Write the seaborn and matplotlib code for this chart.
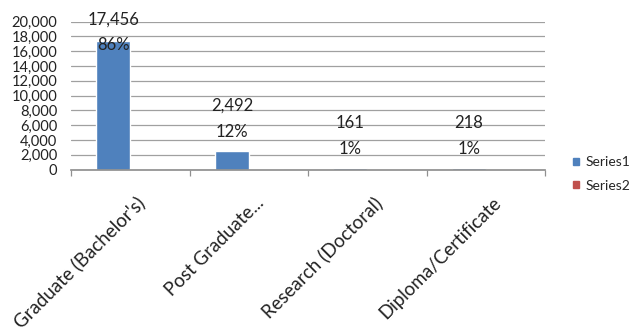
import matplotlib
matplotlib.use("Agg")
import matplotlib.pyplot as plt
import matplotlib.transforms as mtransforms
import seaborn as sns
import pandas as pd
import numpy as np
from matplotlib.patches import Patch

categories = ["Graduate (Bachelor's)", "Post Graduate...", "Research (Doctoral)", "Diploma/Certificate"]
series1 = [17456, 2492, 161, 218]
series2 = [0.86, 0.12, 0.01, 0.01]
pct_labels = ["86%", "12%", "1%", "1%"]
yticks = list(range(0, 20001, 2000))

sns.set_theme(style="white")
plt.rcParams['font.family'] = ['Lato', 'DejaVu Sans']

df = pd.DataFrame({
    "cat": categories * 2,
    "val": series1 + series2,
    "series": ["Series1"] * 4 + ["Series2"] * 4,
})

fig = plt.figure(figsize=(6.31, 3.30), dpi=100)
ax = fig.add_axes([71 / 631, 1 - 169.5 / 330, (545 - 71) / 631, (169.5 - 21.7) / 330])
sns.barplot(data=df, x="cat", y="val", hue="series", ax=ax,
            palette={"Series1": "#4F81BD", "Series2": "#C0504D"},
            width=0.57, saturation=1, legend=False)

ax.set_ylim(0, 20000)
ax.set_xlim(-0.5, len(categories) - 0.5)
ax.set_yticks(yticks)
ax.set_yticklabels([f"{v:,}" for v in yticks], fontsize=10.5, color="#222222")
ax.yaxis.grid(True, color="#A0A0A0", linewidth=0.9)
ax.set_axisbelow(True)
ax.tick_params(axis="y", length=0, pad=10)
for s in ["left", "top", "right"]:
    ax.spines[s].set_visible(False)
ax.spines["bottom"].set_color("#909090")
ax.set_xlabel("")
ax.set_ylabel("")

ax.set_xticks(range(len(categories)))
ax.set_xticklabels(categories, rotation=45, ha="right", va="center",
                   rotation_mode="anchor", fontsize=13.5, color="#222222")
ax.tick_params(axis="x", which="major", length=0, pad=22)
shift = mtransforms.ScaledTranslation(0.12, 0, fig.dpi_scale_trans)
for lbl in ax.get_xticklabels():
    lbl.set_transform(lbl.get_transform() + shift)
ax.set_xticks(np.arange(-0.5, len(categories), 1.0), minor=True)
ax.tick_params(axis="x", which="minor", length=4.3, color="#909090", width=0.9, bottom=True)

# data labels (value and percent) above Series1 bars
bars = ax.containers[0]
for rect, v, p in zip(bars, series1, pct_labels):
    cx = rect.get_x() + rect.get_width() / 2
    top = rect.get_height()
    y_data = min(top, 14200)
    ax.annotate(p, xy=(cx, y_data), xytext=(0, 13.9), textcoords="offset points",
                ha="center", va="center", fontsize=12, color="#222222", annotation_clip=False)
    ax.annotate(f"{v:,}", xy=(cx, y_data), xytext=(0, 32.4), textcoords="offset points",
                ha="center", va="center", fontsize=12, color="#222222", annotation_clip=False)

# legend
handles = [Patch(color="#4F81BD"), Patch(color="#C0504D")]
fig.legend(handles, ["Series1", "Series2"], loc="center left",
           bbox_to_anchor=(573 / 631, 1 - 174 / 330),
           frameon=False, fontsize=10, handlelength=0.45, handleheight=0.45,
           handletextpad=0.45, labelspacing=0.8, borderpad=0, borderaxespad=0)

fig.savefig("out.png", dpi=100)
